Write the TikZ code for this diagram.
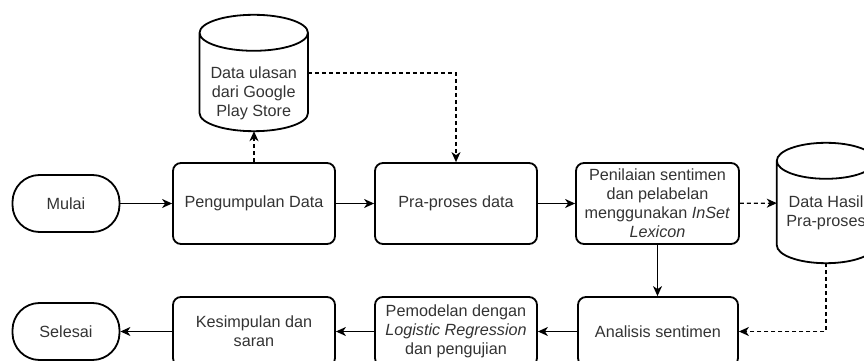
\documentclass[tikz,border=0pt]{standalone}
\usepackage{fontspec}
\setmainfont{Liberation Sans}
\usepackage{xcolor}
\definecolor{InkGray}{HTML}{333333}
\usetikzlibrary{arrows.meta, positioning, calc}

\tikzset{
    procbox/.style={draw, line width=1.8pt, rounded corners=8pt, minimum width=162pt, minimum height=81pt, align=center, text=InkGray, inner sep=2pt},
    termbox/.style={draw, line width=1.8pt, rounded corners=27pt, minimum width=107pt, minimum height=57pt, text=InkGray},
    dbbox/.style={minimum width=108pt, minimum height=116pt, inner sep=0pt},
    dbtext/.style={align=center, text=InkGray},
    flow/.style={line width=1.2pt, -{Stealth[length=10pt, width=9pt, inset=3pt]}},
    dataflow/.style={flow, dash pattern=on 4pt off 3pt},
}

% outline of a data store round node #1
\newcommand{\dbrim}{18pt}
\newcommand{\drawdb}[1]{%
    \draw[line width=1.8pt] let \p1=(#1.north west), \p2=(#1.south east), \n1={(\x2-\x1)/2} in
        (\x1,\y1-\dbrim) -- (\x1,\y2+\dbrim)
        arc[start angle=180, end angle=360, x radius=\n1, y radius=\dbrim]
        -- (\x2,\y1-\dbrim)
        arc[start angle=0, end angle=180, x radius=\n1, y radius=\dbrim]
        arc[start angle=180, end angle=360, x radius=\n1, y radius=\dbrim];
}

\begin{document}
\begin{tikzpicture}[x=1pt, y=1pt, font=\fontsize{16.2}{19}\selectfont]
    \useasboundingbox (0,0) rectangle (864,361);
    \clip (0,0) rectangle (864,361);

    % Top row
    \node[termbox] (mulai) at (66,157.5) {Mulai};
    \node[procbox] (kumpul) at (254,157.5) {Pengumpulan Data};
    \node[procbox] (prapro) at (456,157.5) {Pra-proses data};
    \node[procbox, minimum width=163pt] (nilai) at (657.5,157.5) {Penilaian sentimen\\dan pelabelan\\menggunakan \textit{InSet}\\\textit{Lexicon}};

    % Data stores
    \node[dbbox] (ulasan) at (253.75,288) {};
    \drawdb{ulasan}
    \node[dbtext] (ulasantxt) at ($(ulasan)+(0,-20.5)$) {Data ulasan\\dari Google\\Play Store};
    \node[dbbox, minimum width=98pt, minimum height=120pt] (hasil) at (826,158) {};
    \drawdb{hasil}
    \node[dbtext] (hasiltxt) at ($(hasil)+(0,-10)$) {Data Hasil\\Pra-proses};

    % Bottom row
    \node[procbox, minimum width=160pt, minimum height=69pt] (analisis) at (658,29.5) {Analisis sentimen};
    \node[procbox, minimum height=69pt] (model) at (456,29.5) {Pemodelan dengan\\\textit{Logistic Regression}\\dan pengujian};
    \node[procbox, minimum height=69pt] (simpul) at (254,29.5) {Kesimpulan dan\\saran};
    \node[termbox] (selesai) at (66,29.5) {Selesai};

    % Flow
    \draw[flow] (mulai) -- (kumpul);
    \draw[flow] (kumpul) -- (prapro);
    \draw[flow] (prapro) -- (nilai);
    \draw[flow] (nilai.south) -- (nilai.south |- analisis.north);
    \draw[flow] (analisis) -- (model);
    \draw[flow] (model) -- (simpul);
    \draw[flow] (simpul) -- (selesai);

    % Data
    \draw[dataflow] (kumpul.north) -- (kumpul.north |- ulasan.south);
    \draw[dataflow] (ulasan.east) -| (prapro.north);
    \draw[dataflow] (nilai) -- (hasil);
    \draw[dataflow] (hasil.south) |- (analisis.east);
\end{tikzpicture}
\end{document}
